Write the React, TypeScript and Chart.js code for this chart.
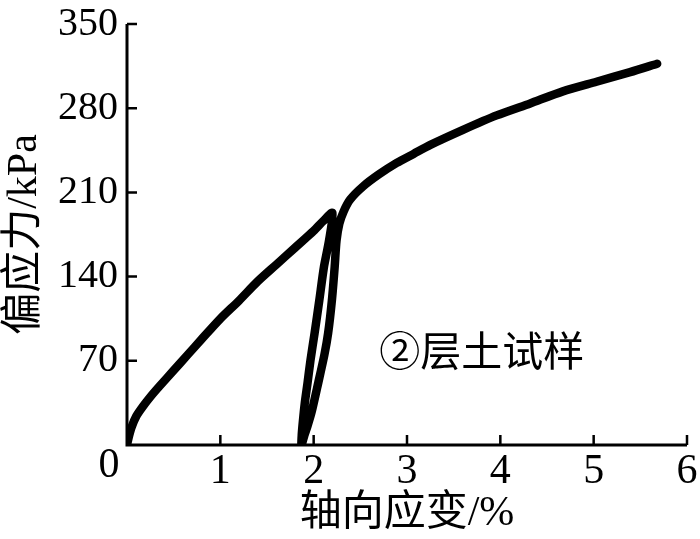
import React, { useEffect, useRef } from "react";
import { Chart, registerables } from "chart.js";

Chart.register(...registerables);

// ---- data ----
// strain (%) along the loading / unloading / reloading path
const strainValues = [
  0.0, 0.02, 0.05, 0.1, 0.17, 0.25, 0.35, 0.5, 0.65, 0.8, 1.0, 1.2, 1.4, 1.6, 1.8, 2.0, 2.1, 2.2,
  2.165, 2.11, 2.06, 2.01, 1.965, 1.935, 1.905, 1.885, 1.872, 1.87,
  1.9, 1.935, 1.98, 2.05, 2.115, 2.155, 2.195, 2.225, 2.245, 2.275, 2.32, 2.39, 2.53, 2.7, 2.89, 3.07,
  3.25, 3.6, 3.96, 4.32, 4.67, 5.03, 5.39, 5.68,
];
// deviatoric stress (kPa)
const stressValues = [
  0, 7, 15, 24, 32, 40, 49, 62, 75, 88, 105, 120, 136, 150, 164, 178, 186, 193,
  170, 148, 120, 93, 70, 52, 35, 20, 8, 0,
  8, 16, 28, 52, 75, 93, 120, 148, 170, 184, 194, 204, 215, 225, 234.5, 242,
  249.5, 262, 274, 284, 294, 302, 310, 317,
];
const xTickValues = [0, 1, 2, 3, 4, 5, 6];
const yTickValues = [0, 70, 140, 210, 280, 350];
const xTitle = "轴向应变/%";
const yTitle = "偏应力/kPa";
const sampleLabel = "②层土试样";
const sampleLabelAt = { x: 3.8, y: 79 };

const SERIF = '"Liberation Serif", "Times New Roman", "Noto Sans CJK SC", serif';
const CJK = '"Noto Sans CJK SC", "Liberation Serif", sans-serif';

const axesPlugin = {
  id: "insideAxes",
  beforeDatasetsDraw(chart: any) {
    const { ctx } = chart;
    const x = chart.scales.x;
    const y = chart.scales.y;
    const x0 = x.getPixelForValue(xTickValues[0]);
    const x1 = x.getPixelForValue(xTickValues[xTickValues.length - 1]);
    const y0 = y.getPixelForValue(yTickValues[0]);
    const y1 = y.getPixelForValue(yTickValues[yTickValues.length - 1]);
    ctx.save();
    ctx.strokeStyle = "#000";
    ctx.lineWidth = 3;
    ctx.lineCap = "butt";
    ctx.beginPath();
    ctx.moveTo(x0, y1);
    ctx.lineTo(x0, y0);
    ctx.lineTo(x1, y0);
    ctx.stroke();
    ctx.lineWidth = 2.5;
    ctx.beginPath();
    for (const v of xTickValues) {
      if (v === xTickValues[0]) continue;
      const px = x.getPixelForValue(v);
      ctx.moveTo(px, y0);
      ctx.lineTo(px, y0 - 10);
    }
    for (const v of yTickValues) {
      if (v === yTickValues[0]) continue;
      const py = y.getPixelForValue(v);
      ctx.moveTo(x0, py);
      ctx.lineTo(x0 + 10, py);
    }
    ctx.stroke();
    ctx.restore();
  },
  afterDraw(chart: any) {
    const { ctx } = chart;
    const x = chart.scales.x;
    const y = chart.scales.y;
    const x0 = x.getPixelForValue(0);
    const y0 = y.getPixelForValue(0);
    ctx.save();
    ctx.fillStyle = "#000";
    ctx.textAlign = "center";
    ctx.textBaseline = "middle";
    ctx.font = `42px ${SERIF}`;
    ctx.fillText("0", x0 - 18, y0 + 21);
    ctx.font = `41px ${CJK}`;
    ctx.fillText(
      sampleLabel,
      x.getPixelForValue(sampleLabelAt.x),
      y.getPixelForValue(sampleLabelAt.y)
    );
    ctx.restore();
  },
};

export default function App() {
  const ref = useRef<HTMLCanvasElement>(null);
  useEffect(() => {
    const points = strainValues.map((s, i) => ({ x: s, y: stressValues[i] }));
    const chart = new Chart(ref.current as HTMLCanvasElement, {
      type: "scatter",
      data: {
        datasets: [
          {
            data: points,
            showLine: true,
            borderColor: "#000",
            backgroundColor: "#000",
            borderWidth: 8.5,
            pointRadius: 0,
            tension: 0.25,
            borderJoinStyle: "round",
            borderCapStyle: "round",
            fill: false,
          },
        ],
      },
      options: {
        animation: false,
        responsive: false,
        devicePixelRatio: 1,
        layout: { padding: { left: 0, top: 24, right: 13, bottom: 0 } },
        plugins: { legend: { display: false }, tooltip: { enabled: false } },
        scales: {
          x: {
            type: "linear",
            min: 0,
            max: 6,
            grid: { display: false, drawTicks: false },
            border: { display: false },
            afterBuildTicks: (s: any) => {
              s.ticks = xTickValues.map((v) => ({ value: v }));
            },
            afterFit: (s: any) => {
              s.height = 94;
            },
            ticks: {
              color: "#000",
              padding: 2,
              font: { family: SERIF, size: 42 },
              callback: (v: any) => (Number(v) === 0 ? "" : String(v)),
              maxRotation: 0,
              autoSkip: false,
            },
            title: {
              display: true,
              text: xTitle,
              color: "#000",
              font: { family: SERIF, size: 42, lineHeight: 1.2 },
              padding: { top: 1, bottom: 0 },
            },
          },
          y: {
            type: "linear",
            min: 0,
            max: 350,
            grid: { display: false, drawTicks: false },
            border: { display: false },
            afterBuildTicks: (s: any) => {
              s.ticks = yTickValues.map((v) => ({ value: v }));
            },
            afterFit: (s: any) => {
              s.width = 127;
            },
            ticks: {
              color: "#000",
              padding: 9,
              font: { family: SERIF, size: 40, lineHeight: 0.7 },
              callback: (v: any) => (Number(v) === 0 ? "" : String(v)),
              autoSkip: false,
            },
            title: {
              display: true,
              text: yTitle,
              color: "#000",
              font: { family: SERIF, size: 42, lineHeight: 1 },
              padding: { top: 4, bottom: 0 },
            },
          },
        },
      },
      plugins: [axesPlugin],
    } as any);
    return () => chart.destroy();
  }, []);
  return (
    <div
      style={{
        position: "absolute",
        left: 0,
        top: 0,
        width: 700,
        height: 539,
        background: "#fff",
      }}
    >
      <canvas ref={ref} width={700} height={539} style={{ display: "block" }} />
    </div>
  );
}
